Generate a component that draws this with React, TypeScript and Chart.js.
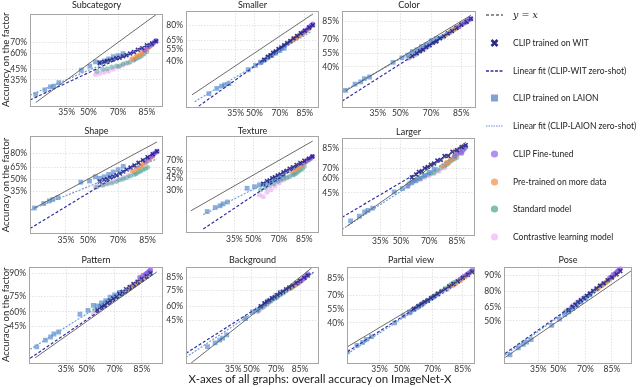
import React, { useEffect, useRef } from 'react';
import { Chart, registerables, LinearScale } from 'chart.js';

// ---------------- data ----------------
const subplotTitles = ['Subcategory', 'Smaller', 'Color', 'Shape', 'Texture', 'Larger', 'Pattern', 'Background', 'Partial view', 'Pose'];
const xTicks = [35, 50, 70, 85];
const yTicks = [
  [35, 45, 60, 70], [40, 55, 65, 80], [40, 55, 70, 85],
  [35, 50, 65, 80], [30, 45, 55, 70], [45, 60, 70, 85],
  [45, 60, 75, 90], [45, 60, 75, 85], [40, 55, 70, 85], [50, 65, 80, 90],
];
const xRanges = [
  [15, 90.7], [8, 90.8], [16, 90.1], [15.6, 90.4], [8.6, 90.9], [13.7, 91.5],
  [14, 92.4], [8.2, 92.5], [17.3, 89.4], [14.7, 92.3],
];
const yRanges = [
  [15.4, 89], [4.9, 90.5], [8.3, 90.9], [3.8, 91.8], [2.0, 91.7], [10.9, 90.8],
  [13.5, 92.8], [10, 90.7], [8.1, 91.3], [11.8, 93.75],
];

// overall accuracy on ImageNet-X (same models in every panel)
const laionX = [17.5, 22, 25, 27, 30, 45, 51, 55, 58, 61, 64, 67, 70, 73];
const witX = [58, 61, 63, 65, 67, 69, 71, 73, 75, 77, 79, 81, 83, 85, 87, 88.5];
const standardX = [56, 60, 63, 66, 69, 71, 73, 75, 77, 79, 80, 81, 82, 83, 84, 85];
const contrastiveX = [55, 58, 61, 64, 67, 70, 73, 76, 79];
const pretrainedX = [78, 80, 81, 82, 83, 84, 85, 86, 87];
const finetunedX = [84, 85.5, 86.5, 87, 87.5, 88, 88.5];

// accuracy on the factor, one row per panel
const laionY = [
  [23, 26.5, 29, 29.5, 32.5, 44, 48, 52, 51.5, 53, 55, 57, 58, 60],
  [10.7, 14, 15.5, 16.5, 17.5, 30.5, 35.3, 39, 41.5, 45, 47, 50, 53, 56],
  [18, 23, 25, 28, 29.5, 45, 50, 53, 57, 59, 62.5, 64.5, 68.5, 70.5],
  [17.5, 21.5, 24, 25.5, 27.5, 46, 47.5, 53, 51, 53, 56, 59, 62, 66],
  [9.8, 12.5, 13.8, 15.4, 17, 32, 34, 36.4, 37, 39, 41, 43, 46, 50],
  [19.5, 23, 26.5, 28, 30, 46, 49.5, 52, 56, 58, 60, 63, 66, 69],
  [25, 31, 34, 37, 39, 57.6, 61.7, 66.6, 66, 69, 71, 74, 76, 78],
  [20, 23, 25.4, 27, 30, 46.8, 54, 56, 59, 62, 65, 67.5, 70.5, 73.5],
  [14, 18.5, 21, 23.5, 26, 40, 48, 52, 55, 59, 62, 65, 68.5, 71.5],
  [17, 22.5, 25.5, 27.5, 30, 45, 52, 57, 60, 63.5, 67, 70.5, 73.5, 77],
];
const witY = [
  [51, 52, 53, 53.5, 54.5, 55.5, 56, 57.5, 58.5, 60, 61.5, 63.5, 65, 67.5, 69, 71],
  [42, 45.5, 47.5, 50.5, 52, 55, 57, 59.5, 62, 64.5, 67.5, 70, 73, 75.5, 78.5, 80.5],
  [52, 55, 57.5, 59, 62, 64, 66.5, 68, 71, 73, 75.5, 77.5, 80, 82.5, 84.5, 86.5],
  [47, 49, 50, 52, 53.5, 55, 57, 59.5, 62, 64.5, 67, 70, 73, 76, 79, 81.5],
  [38, 41.5, 42.5, 45.5, 47, 49.5, 51, 54, 56, 59, 61, 64, 66.5, 69.5, 72, 74.5],
  [61, 64, 66.5, 67, 70, 71, 73, 74, 76.5, 77, 80, 80, 83, 84, 86, 87],
  [62, 65, 66.5, 69, 71, 73, 74.5, 77, 78.5, 80.5, 82, 84, 85.5, 87, 88.5, 90],
  [60, 63, 64.5, 66, 68, 69, 71, 72.5, 74, 76, 77.5, 79, 81, 82.5, 84.5, 86],
  [56, 59, 61, 63.5, 65, 67.5, 69.5, 72, 74, 76, 78.5, 80.5, 82.5, 85, 87, 88.5],
  [62, 65.5, 67.5, 70, 72, 74, 76, 78, 80, 82, 84, 85.5, 87.5, 89, 90.5, 92],
];
const standardY = [
  [43, 45, 45.5, 47, 48, 48, 50, 51, 52, 54, 55, 56, 57, 58.5, 60, 62],
  [39, 43.5, 47, 50, 54, 56, 59, 61.5, 64, 67, 68, 69.5, 71, 72, 73.5, 75],
  [50, 53.5, 57, 61, 63, 66.5, 68, 71, 72.5, 75.5, 76, 78, 78.5, 80.5, 81, 82.5],
  [40, 42, 44, 45, 47, 49, 50, 52, 54, 56, 57, 59, 60, 62, 63, 65],
  [30, 33, 36, 38, 41, 43, 45, 46, 48, 50, 51, 53, 55, 57, 59, 62],
  [55, 58, 60, 62, 64, 65, 66, 68, 70, 72, 73, 75, 76, 77, 78, 79],
  [62, 66, 68, 71, 73, 74.5, 76, 77.5, 79, 81, 82, 83, 84, 85, 86, 87],
  [55, 59, 62, 65, 67.5, 69, 71, 72.5, 74.5, 76.5, 77, 78, 79, 80, 81, 82],
  [52, 57, 60, 64, 67, 70, 72, 74.5, 77, 79, 80.5, 81.5, 82, 83, 84, 85],
  [61, 65, 68, 71, 74, 75.5, 77.5, 79.5, 81.5, 83.5, 84.5, 85.5, 86, 87, 88, 89],
];
const contrastiveY = [
  [40, 41, 42, 43, 45, 47, 49, 51, 54],
  [38, 41.5, 45, 48, 52, 55, 59, 63, 66.5],
  [49, 52, 55, 58.5, 61, 65.5, 68, 72, 75],
  [40, 42, 43, 45, 47, 49, 52, 55, 58],
  [24, 22, 27, 30, 35, 39, 43, 47, 52],
  [52, 55, 57, 59, 61, 63, 65, 67, 70],
  [58, 61, 64, 67, 70, 73, 76, 78, 81],
  [54, 57, 60, 63, 66, 69, 72, 74.5, 77],
  [51, 55, 58, 62, 65, 68, 71.5, 74.5, 78],
  [60, 63, 67, 70, 73, 76, 78.5, 81, 84],
];
const pretrainedY = [
  [55, 57, 58, 59, 61, 62.5, 64, 66, 68],
  [65, 67.5, 69, 70.5, 71.5, 73, 74.5, 76, 77.5],
  [74, 76.5, 77.5, 79, 80, 81, 82.5, 83.5, 84.5],
  [60, 63, 64.5, 66, 68, 70, 72, 74.5, 77],
  [55, 57.5, 59, 61, 63, 65, 67, 69, 71],
  [72, 75, 74, 77, 78, 80, 81, 83, 85],
  [80, 82.5, 83, 84, 85, 86, 87, 88, 89],
  [76, 77.5, 78.5, 79, 80, 81, 82, 83, 84.5],
  [76, 79, 79.5, 80.5, 82, 83, 84.5, 85.5, 87],
  [82, 84, 85, 86, 87, 88, 89, 90, 91],
];
const finetunedY = [
  [63, 66, 67.5, 68.5, 69.5, 70.5, 71.5],
  [74, 76, 77.5, 78.5, 79.5, 80.5, 81.5],
  [81, 83, 84, 84.5, 85.5, 86, 86.5],
  [72, 75, 77, 78, 79.5, 80.5, 81.5],
  [66, 68, 70, 71, 72, 73, 74.5],
  [80, 82, 83, 82, 84, 85, 86],
  [88, 89, 89.5, 90, 90.5, 91, 91.5],
  [81, 83, 84, 84.5, 85, 86, 87],
  [84, 86, 87, 87.5, 88, 89, 89.5],
  [89, 90.5, 91, 91.5, 92, 92.5, 93],
];
// linear fits: [x0, y0, x1, y1]
const witFit = [
  [15, 19.1, 88.2, 70.8], [11, 4.3, 88.1, 80.2], [16, 11.1, 88.5, 86.4],
  [15.6, 5.5, 88.2, 81.2], [15.5, 2.8, 87.9, 73.6], [13.7, 22.1, 89, 88],
  [14.5, 16.4, 88.9, 89.1], [8.2, 15.4, 90.7, 87.9], [17.5, 14.1, 88.5, 88.5], [15.2, 18, 88.4, 91.5],
];
const laionFit = [
  [15, 22.5, 88.2, 70.3], [11, 6.8, 88.1, 75], [16, 16.9, 88.5, 86.4],
  [15.6, 15.8, 88.5, 74.3], [15.5, 8, 87.9, 70.4], [13.7, 13.9, 89, 85.2],
  [14.5, 23, 88.9, 90], [8.2, 13, 90.7, 87.5], [17.5, 12.8, 88.5, 88], [15.2, 16.8, 88.4, 91.2],
];
// y = x line extent: [x0, x1]
const identityRange = [
  [17.5, 88.5], [10, 88.6], [17.5, 88.5], [17.5, 88.5], [10.3, 88.6], [15.7, 88.5],
  [16.7, 90.6], [10, 90], [17.7, 89], [15.2, 92],
];

const legendLabels = ['CLIP trained on WIT', 'Linear fit (CLIP-WIT zero-shot)', 'CLIP trained on LAION', 'Linear fit (CLIP-LAION zero-shot)', 'CLIP Fine-tuned', 'Pre-trained on more data', 'Standard model', 'Contrastive learning model'];

// ---------------- layout / style ----------------
const panelBoxes = [
  [30, 13, 163, 106], [186, 10, 319, 107], [342, 10, 476, 107],
  [30, 136, 163, 234], [186, 136, 319, 233], [342, 137, 475, 235],
  [29, 266, 163, 363], [186, 266, 319, 363], [347, 266, 475, 363], [504, 266, 632, 363],
];
const titleGaps = [8, 5, 5, 4.5, 4.5, 5, 6, 6, 6, 6];
const FONT = "Lato, 'Noto Sans', sans-serif";
const C = {
  wit: 'rgba(38,38,135,0.9)',
  witFit: '#2f2fa3',
  laion: 'rgba(63,124,198,0.6)',
  laionFit: '#6f9dd4',
  finetuned: 'rgba(140,92,232,0.72)',
  pretrained: 'rgba(240,144,74,0.72)',
  standard: 'rgba(63,158,142,0.5)',
  contrastive: 'rgba(236,170,245,0.65)',
};

// ---------------- probit scale ----------------
function probit(p: number): number {
  const a = [-3.969683028665376e1, 2.209460984245205e2, -2.759285104469687e2, 1.38357751867269e2, -3.066479806614716e1, 2.506628277459239];
  const b = [-5.447609879822406e1, 1.615858368580409e2, -1.556989798598866e2, 6.680131188771972e1, -1.328068155288572e1];
  const c = [-7.784894002430293e-3, -3.223964580411365e-1, -2.400758277161838, -2.549732539343734, 4.374664141464968, 2.938163982698783];
  const d = [7.784695709041462e-3, 3.224671290700398e-1, 2.445134137142996, 3.754408661907416];
  if (p <= 0) return -8;
  if (p >= 1) return 8;
  const pl = 0.02425;
  let q: number, r: number;
  if (p < pl) {
    q = Math.sqrt(-2 * Math.log(p));
    return (((((c[0] * q + c[1]) * q + c[2]) * q + c[3]) * q + c[4]) * q + c[5]) / ((((d[0] * q + d[1]) * q + d[2]) * q + d[3]) * q + 1);
  }
  if (p <= 1 - pl) {
    q = p - 0.5; r = q * q;
    return (((((a[0] * r + a[1]) * r + a[2]) * r + a[3]) * r + a[4]) * r + a[5]) * q / (((((b[0] * r + b[1]) * r + b[2]) * r + b[3]) * r + b[4]) * r + 1);
  }
  q = Math.sqrt(-2 * Math.log(1 - p));
  return -(((((c[0] * q + c[1]) * q + c[2]) * q + c[3]) * q + c[4]) * q + c[5]) / ((((d[0] * q + d[1]) * q + d[2]) * q + d[3]) * q + 1);
}
function normCdf(z: number): number {
  const t = 1 / (1 + 0.2316419 * Math.abs(z));
  const dd = 0.3989423 * Math.exp(-z * z / 2);
  const pr = dd * t * (0.3193815 + t * (-0.3565638 + t * (1.781478 + t * (-1.821256 + t * 1.330274))));
  return z > 0 ? 1 - pr : pr;
}

class ProbitScale extends (LinearScale as any) {
  static id = 'probit';
  static defaults = {};
  determineDataLimits() {
    this.min = this.options.min;
    this.max = this.options.max;
  }
  buildTicks() {
    return [];
  }
  configure() {
    super.configure();
    this._pmin = probit(this.min / 100);
    this._pmax = probit(this.max / 100);
  }
  getPixelForValue(value: number) {
    const t = (probit(value / 100) - this._pmin) / (this._pmax - this._pmin);
    return this.getPixelForDecimal(t);
  }
  getValueForPixel(pixel: number) {
    const d = this.getDecimalForPixel(pixel);
    return 100 * normCdf(this._pmin + d * (this._pmax - this._pmin));
  }
}

Chart.register(...registerables, ProbitScale as any);

const framePlugin = {
  id: 'frame',
  afterDraw(chart: any) {
    const { ctx, chartArea: a } = chart;
    ctx.save();
    ctx.strokeStyle = '#a5a5a5';
    ctx.lineWidth = 1;
    ctx.strokeRect(Math.round(a.left) + 0.5, Math.round(a.top) + 0.5, Math.round(a.right - a.left) - 1, Math.round(a.bottom - a.top) - 1);
    ctx.restore();
  },
};

const pts = (xs: number[], ys: number[]) => xs.map((x, k) => ({ x, y: ys[k] }));

function Panel({ i }: { i: number }) {
  const ref = useRef<HTMLCanvasElement>(null);
  const [L, T, R, B] = panelBoxes[i];
  const col1 = L < 40;
  const yw = col1 ? L : 26;
  const pb = Math.max(0, titleGaps[i] - 4.5);
  const titleH = 9 + pb;
  const xh = 14;
  const width = yw + (R - L) + yw;
  const height = titleH + (B - T) + xh;
  const left = L - yw;
  const top = T - titleH;

  useEffect(() => {
    const [fx0, fy0, fx1, fy1] = witFit[i];
    const [lx0, ly0, lx1, ly1] = laionFit[i];
    const [ix0, ix1] = identityRange[i];
    const lineDs = (data: any[], color: string, w: number, dash: number[]) => ({
      data, showLine: true, borderColor: color, borderWidth: w, borderDash: dash, pointRadius: 0, fill: false,
    });
    const ptDs = (data: any[], color: string, style: string, r: number, border?: any) => ({
      data, showLine: false, pointStyle: style, pointRadius: r,
      backgroundColor: color, borderColor: border ? border.color : color, pointBorderWidth: border ? border.width : 0,
    });
    const datasets: any[] = [
      lineDs([{ x: ix0, y: ix0 }, { x: ix1, y: ix1 }], '#5a5a5a', 0.9, []),
      lineDs([{ x: fx0, y: fy0 }, { x: fx1, y: fy1 }], C.witFit, 1.2, [3, 2]),
      lineDs([{ x: lx0, y: ly0 }, { x: lx1, y: ly1 }], C.laionFit, 1.2, [2, 1.5]),
      ptDs(pts(witX, witY[i]), C.wit, 'crossRot', 2.7, { color: C.wit, width: 1.6 }),
      ptDs(pts(laionX, laionY[i]), C.laion, 'rect', 3.4),
      ptDs(pts(finetunedX, finetunedY[i]), C.finetuned, 'circle', 2.5),
      ptDs(pts(pretrainedX, pretrainedY[i]), C.pretrained, 'circle', 2.5),
      ptDs(pts(standardX, standardY[i]), C.standard, 'circle', 2.5),
      ptDs(pts(contrastiveX, contrastiveY[i]), C.contrastive, 'circle', 2.5),
    ];
    const tickFont = { family: FONT, size: 8.5 };
    const grid = { color: 'rgba(0,0,0,0.14)', lineWidth: 0.8, drawTicks: false, drawOnChartArea: true };
    const border = { display: false, dash: [1.5, 1.5] };
    const chart = new Chart(ref.current as HTMLCanvasElement, {
      type: 'scatter',
      data: { datasets },
      options: {
        animation: false,
        responsive: false,
        devicePixelRatio: 1,
        events: [],
        layout: { padding: 0 },
        plugins: {
          legend: { display: false },
          tooltip: { enabled: false },
          title: {
            display: true, text: subplotTitles[i], color: '#222',
            font: { family: FONT, size: 9, weight: 'normal', lineHeight: 1 },
            padding: { top: 0, bottom: pb },
          },
        },
        scales: {
          x: {
            type: 'probit' as any,
            min: xRanges[i][0], max: xRanges[i][1],
            afterBuildTicks: (s: any) => { s.ticks = xTicks.map((v) => ({ value: v })); },
            afterFit: (s: any) => { s.height = xh; },
            grid, border,
            ticks: { callback: (v: any) => `${v}%`, font: tickFont, color: '#333', padding: 1, maxRotation: 0, autoSkip: false },
          },
          y: {
            type: 'probit' as any,
            min: yRanges[i][0], max: yRanges[i][1],
            afterBuildTicks: (s: any) => { s.ticks = yTicks[i].map((v) => ({ value: v })); },
            afterFit: (s: any) => { s.width = yw; },
            grid, border,
            title: col1
              ? { display: true, text: 'Accuracy on the factor', color: '#222', font: { family: FONT, size: 9.5 }, padding: 0 }
              : { display: false },
            ticks: { callback: (v: any) => `${v}%`, font: tickFont, color: '#333', padding: 3, autoSkip: false },
          },
          ySpacer: {
            type: 'linear',
            position: 'right',
            display: true,
            min: 0, max: 1,
            afterFit: (s: any) => { s.width = yw; },
            grid: { display: false, drawTicks: false },
            border: { display: false },
            ticks: { display: false },
          },
        } as any,
      },
      plugins: [framePlugin],
    } as any);
    return () => chart.destroy();
  }, []);

  return (
    <canvas
      ref={ref}
      width={width}
      height={height}
      style={{ position: 'absolute', left, top, width, height }}
    />
  );
}

const legendKinds = ['wit', 'witfit', 'laion', 'laionfit', 'finetuned', 'pretrained', 'standard', 'contrastive'];
const legendRows = [15, 43, 71, 98, 126, 154, 182, 209, 237];

function Marker({ kind }: { kind: string }) {
  const w = 20, h = 10;
  let el: any = null;
  if (kind === 'identity') el = <line x1={1} y1={5} x2={18} y2={5} stroke="#222" strokeWidth={1.2} strokeDasharray="3,2" />;
  else if (kind === 'witfit') el = <line x1={1} y1={5} x2={18} y2={5} stroke={C.witFit} strokeWidth={1.3} strokeDasharray="3,1.5" />;
  else if (kind === 'laionfit') el = <line x1={1} y1={5} x2={18} y2={5} stroke="#9bb8dc" strokeWidth={1.6} strokeDasharray="1.5,1" />;
  else if (kind === 'wit') el = <path d="M6.5,2 L12.5,8 M6.5,8 L12.5,2" stroke="#2b2b8c" strokeWidth={2.6} />;
  else if (kind === 'laion') el = <rect x={6} y={1.5} width={7} height={7} fill="#7ea4d4" />;
  else {
    const col: any = { finetuned: '#b091f0', pretrained: '#f4b07f', standard: '#80bfb4', contrastive: '#f3ccf8' };
    el = <circle cx={9.5} cy={5} r={3.6} fill={col[kind]} />;
  }
  return <svg width={w} height={h} style={{ position: 'absolute', left: 0, top: -5 }}>{el}</svg>;
}

function Legend() {
  const rowStyle = (y: number): any => ({ position: 'absolute', left: 0, top: y, height: 0 });
  const textStyle: any = { position: 'absolute', left: 28, top: -6, fontFamily: FONT, fontSize: 8.5, lineHeight: '12px', color: '#222', whiteSpace: 'nowrap' };
  return (
    <div style={{ position: 'absolute', left: 485, top: 0 }}>
      <div style={rowStyle(legendRows[0])}>
        <Marker kind="identity" />
        <span style={{ ...textStyle, fontFamily: "'DejaVu Serif', serif", fontSize: 9.5 }}>
          <i>y</i> = <i>x</i>
        </span>
      </div>
      {legendLabels.map((lab, k) => (
        <div key={lab} style={rowStyle(legendRows[k + 1])}>
          <Marker kind={legendKinds[k]} />
          <span style={textStyle}>{lab}</span>
        </div>
      ))}
    </div>
  );
}

export default function App() {
  return (
    <div style={{ position: 'absolute', left: 0, top: 0, width: 640, height: 387, overflow: 'hidden', background: '#fff' }}>
      {subplotTitles.map((_, i) => (
        <Panel key={i} i={i} />
      ))}
      <Legend />
      <div style={{ position: 'absolute', left: 0, width: 640, top: 372, textAlign: 'center', fontFamily: FONT, fontSize: 11.5, color: '#222', whiteSpace: 'nowrap' }}>
        X-axes of all graphs: overall accuracy on ImageNet-X
      </div>
    </div>
  );
}
